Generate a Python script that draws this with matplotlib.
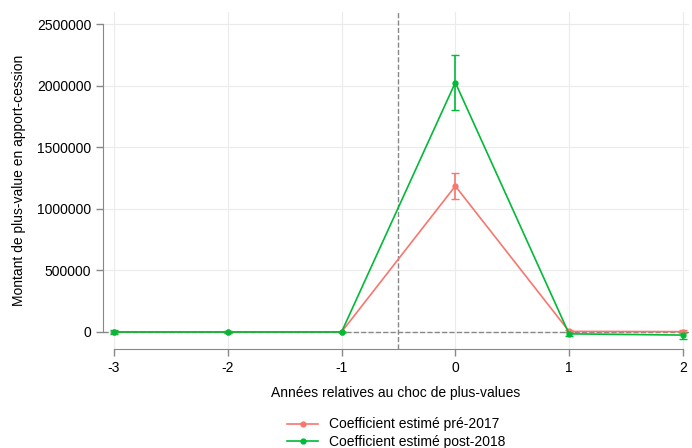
import numpy as np
import matplotlib.pyplot as plt
from matplotlib.lines import Line2D

plt.rcParams['font.family'] = ['Liberation Sans', 'DejaVu Sans']
plt.rcParams['axes.unicode_minus'] = False

annees = [-3, -2, -1, 0, 1, 2]
coef_pre = [0, 0, 0, 1185000, 5000, 3000]
err_pre = [12000, 5000, 0, 105000, 8000, 10000]
coef_post = [0, 0, 0, 2025000, -15000, -25000]
err_post = [15000, 6000, 0, 220000, 15000, 28000]

rouge = '#F8766D'
vert = '#00BA38'

fig = plt.figure(figsize=(6.92, 4.48), dpi=100)
ax = fig.add_axes([0.149, 0.221, 0.846, 0.752])

ax.errorbar(annees, coef_pre, yerr=err_pre, color=rouge, marker='o', markersize=3.5,
            lw=1.2, capsize=3, elinewidth=1.2, zorder=3)
ax.errorbar(annees, coef_post, yerr=err_post, color=vert, marker='o', markersize=3.5,
            lw=1.2, capsize=3, elinewidth=1.2, zorder=3)

ax.axvline(-0.5, color='#888888', ls='--', lw=1, zorder=2)
ax.axhline(0, color='#888888', ls='--', lw=1, zorder=2)

ax.set_xlim(-3.096, 2.05)
ax.set_ylim(-138000, 2597000)
ax.set_xticks(annees)
ax.set_yticks([0, 500000, 1000000, 1500000, 2000000, 2500000])
ax.set_yticklabels(['0', '500000', '1000000', '1500000', '2000000', '2500000'])
ax.grid(True, color='#ebebeb', lw=0.8)
ax.set_axisbelow(True)

for s in ['top', 'right']:
    ax.spines[s].set_visible(False)
ax.spines['left'].set_bounds(0, 2500000)
ax.spines['bottom'].set_bounds(-3, 2)
for s in ['left', 'bottom']:
    ax.spines[s].set_color('#888888')
ax.tick_params(colors='#888888', labelcolor='black', labelsize=10, length=5, width=1)

ax.set_xlabel('Années relatives au choc de plus-values', fontsize=10, labelpad=8)
ax.set_ylabel('Montant de plus-value en apport-cession', fontsize=10, labelpad=8)

handles = [Line2D([], [], color=rouge, marker='o', markersize=3.5, lw=1.2),
           Line2D([], [], color=vert, marker='o', markersize=3.5, lw=1.2)]
labels = ['Coefficient estimé pré-2017', 'Coefficient estimé post-2018']
fig.legend(handles, labels, loc='upper center', bbox_to_anchor=(0.573, 0.09), frameon=False,
           fontsize=10, handlelength=2.2, labelspacing=0.25, borderpad=0.2)

fig.savefig('out.png', dpi=100)
